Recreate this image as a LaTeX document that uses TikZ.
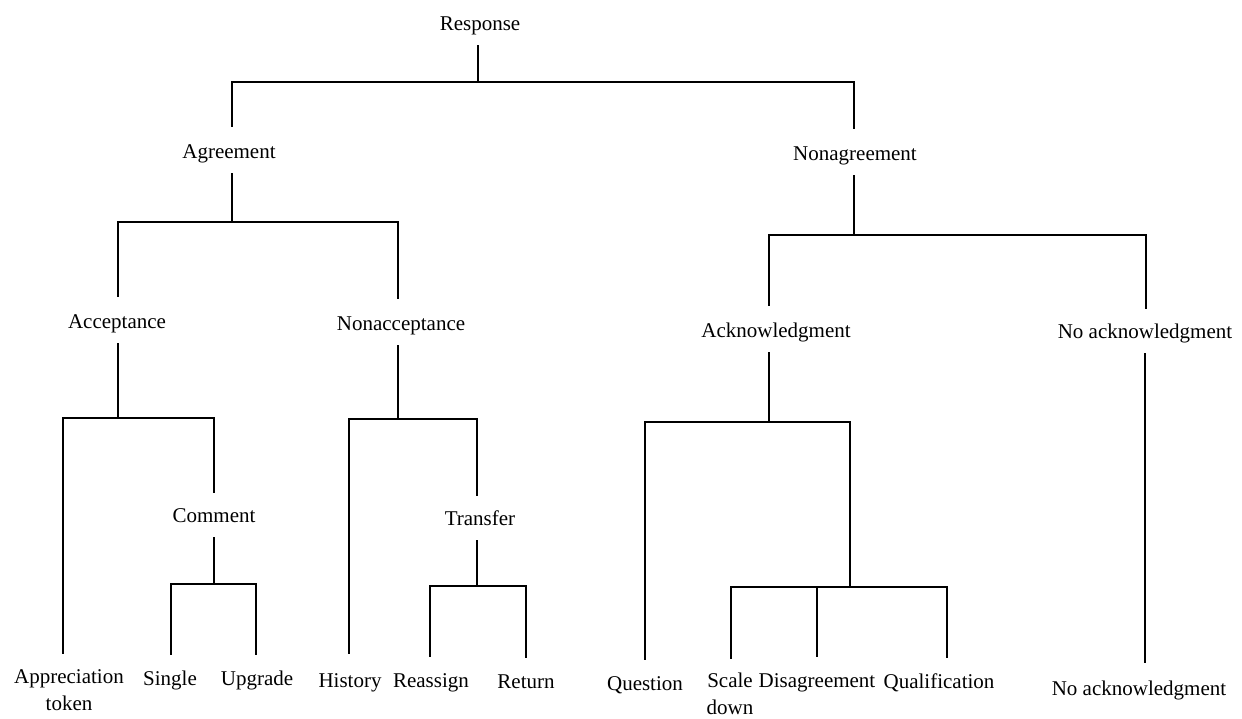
\documentclass[tikz,border=0pt]{standalone}
\usepackage{fontspec}
\setmainfont{Liberation Serif}
\begin{document}
\begin{tikzpicture}[x=1pt,y=-1pt,
  lbl/.style={font=\fontsize{21}{27}\selectfont, inner sep=0pt, text height=14pt, text depth=4pt},
  lbltwo/.style={font=\fontsize{21}{27}\selectfont, inner sep=0pt, align=center, anchor=north},
  conn/.style={line width=1.6pt, line cap=rect},
  up/.style={shorten <=12pt},
  dn/.style={shorten <=18pt},
  dnleaf/.style={shorten <=17pt}]
\useasboundingbox (0,0) rectangle (1242,718);
% nodes
\node[lbl] (resp) at (480,25) {Response};
\node[lbl] (agr) at (229,153) {Agreement};
\node[lbl] (nonagr) at (855,155) {Nonagreement};
\node[lbl] (acc) at (117,323) {Acceptance};
\node[lbl] (nonacc) at (401,325) {Nonacceptance};
\node[lbl] (ack) at (776,332) {Acknowledgment};
\node[lbl] (noack) at (1145,333) {No acknowledgment};
\node[lbl] (comment) at (214,517) {Comment};
\node[lbl] (transfer) at (480,520) {Transfer};
\node[lbltwo] (apprec) at (69,669) {Appreciation\\token};
\node[lbl] (single) at (170,680) {Single};
\node[lbl] (upgrade) at (257,680) {Upgrade};
\node[lbl] (history) at (350,682) {History};
\node[lbl] (reassign) at (431,682) {Reassign};
\node[lbl] (return) at (526,683) {Return};
\node[lbl] (question) at (645,685) {Question};
\node[lbltwo] (scale) at (730,673) {Scale\\down};
\node[lbl] (disagr) at (817,682) {Disagreement};
\node[lbl] (qual) at (939,683) {Qualification};
\node[lbl] (noackleaf) at (1139,690) {No acknowledgment};
% bar levels
\coordinate (b0) at (0,82);
\coordinate (bagr) at (0,222);
\coordinate (bnon) at (0,235);
\coordinate (bacc) at (0,418);
\coordinate (bnonacc) at (0,419);
\coordinate (back) at (0,422);
\coordinate (bcom) at (0,584);
\coordinate (btra) at (0,586);
\coordinate (sub) at (850,587);
% Response
\draw[conn,up] ([xshift=-2pt]resp.south) -- ([xshift=-2pt]resp.south |- b0);
\draw[conn] ([xshift=3pt]agr.north |- b0) -- ([xshift=-1pt]nonagr.north |- b0);
\draw[conn,dn] ([xshift=3pt]agr.north) -- ([xshift=3pt]agr.north |- b0);
\draw[conn,dn] ([xshift=-1pt]nonagr.north) -- ([xshift=-1pt]nonagr.north |- b0);
% Agreement
\draw[conn,up] ([xshift=3pt]agr.south) -- ([xshift=3pt]agr.south |- bagr);
\draw[conn] ([xshift=1pt]acc.north |- bagr) -- ([xshift=-3pt]nonacc.north |- bagr);
\draw[conn,dn] ([xshift=1pt]acc.north) -- ([xshift=1pt]acc.north |- bagr);
\draw[conn,dn] ([xshift=-3pt]nonacc.north) -- ([xshift=-3pt]nonacc.north |- bagr);
% Nonagreement
\draw[conn,up] ([xshift=-1pt]nonagr.south) -- ([xshift=-1pt]nonagr.south |- bnon);
\draw[conn] ([xshift=-7pt]ack.north |- bnon) -- ([xshift=1pt]noack.north |- bnon);
\draw[conn,dn] ([xshift=-7pt]ack.north) -- ([xshift=-7pt]ack.north |- bnon);
\draw[conn,shorten <=16pt] ([xshift=1pt]noack.north) -- ([xshift=1pt]noack.north |- bnon);
% Acceptance
\draw[conn,up] ([xshift=1pt]acc.south) -- ([xshift=1pt]acc.south |- bacc);
\draw[conn] ([xshift=-6pt]apprec.north |- bacc) -- (comment.north |- bacc);
\draw[conn,shorten <=16pt] ([xshift=-6pt]apprec.north) -- ([xshift=-6pt]apprec.north |- bacc);
\draw[conn,shorten <=16pt] (comment.north) -- (comment.north |- bacc);
% Comment
\draw[conn,up] (comment.south) -- (comment.south |- bcom);
\draw[conn] ([xshift=1pt]single.north |- bcom) -- ([xshift=-1pt]upgrade.north |- bcom);
\draw[conn,dnleaf] ([xshift=1pt]single.north) -- ([xshift=1pt]single.north |- bcom);
\draw[conn,dnleaf] ([xshift=-1pt]upgrade.north) -- ([xshift=-1pt]upgrade.north |- bcom);
% Nonacceptance
\draw[conn,up] ([xshift=-3pt]nonacc.south) -- ([xshift=-3pt]nonacc.south |- bnonacc);
\draw[conn] ([xshift=-1pt]history.north |- bnonacc) -- ([xshift=-3pt]transfer.north |- bnonacc);
\draw[conn,shorten <=20pt] ([xshift=-1pt]history.north) -- ([xshift=-1pt]history.north |- bnonacc);
\draw[conn,shorten <=16pt] ([xshift=-3pt]transfer.north) -- ([xshift=-3pt]transfer.north |- bnonacc);
% Transfer
\draw[conn,up] ([xshift=-3pt]transfer.south) -- ([xshift=-3pt]transfer.south |- btra);
\draw[conn] ([xshift=-1pt]reassign.north |- btra) -- (return.north |- btra);
\draw[conn,dnleaf] ([xshift=-1pt]reassign.north) -- ([xshift=-1pt]reassign.north |- btra);
\draw[conn,dnleaf] (return.north) -- (return.north |- btra);
% Acknowledgment
\draw[conn,up] ([xshift=-7pt]ack.south) -- ([xshift=-7pt]ack.south |- back);
\draw[conn] (question.north |- back) -- (sub |- back) -- (sub);
\draw[conn,dnleaf] (question.north) -- (question.north |- back);
% unlabeled subnode
\draw[conn] ([xshift=1pt]scale.north |- sub) -- ([xshift=8pt]qual.north |- sub);
\draw[conn,shorten <=15pt] ([xshift=1pt]scale.north) -- ([xshift=1pt]scale.north |- sub);
\draw[conn,dnleaf] (disagr.north) -- (disagr.north |- sub);
\draw[conn,dnleaf] ([xshift=8pt]qual.north) -- ([xshift=8pt]qual.north |- sub);
% No acknowledgment
\draw[conn,up,shorten >=19pt] (noack.south) -- ([xshift=6pt]noackleaf.north);
\end{tikzpicture}
\end{document}
